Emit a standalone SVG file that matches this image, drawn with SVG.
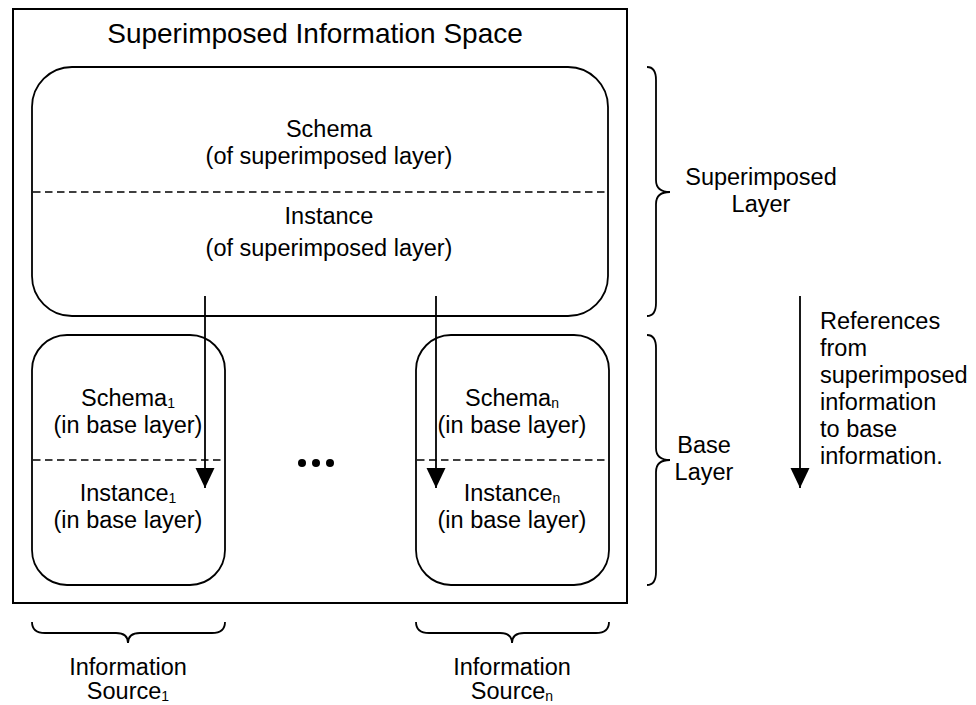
<svg xmlns="http://www.w3.org/2000/svg" width="976" height="705" viewBox="0 0 976 705">
  <style>
    text { font-family: "Liberation Sans", Arial, sans-serif; font-size: 23.5px; fill: #000; }
    .c { text-anchor: middle; }
    .title { font-size: 28px; }
    .sub { font-size: 14px; }
    .box { fill: none; stroke: #000; stroke-width: 1.8; }
    .frame { fill: #fff; stroke: #000; stroke-width: 2; }
    .div { stroke: #000; stroke-width: 1.6; stroke-dasharray: 7.5 4.5; }
    .brace { fill: none; stroke: #000; stroke-width: 1.8; }
    .ref { stroke: #000; stroke-width: 1.8; fill: none; }
  </style>
  <defs>
    <marker id="head" markerUnits="userSpaceOnUse" markerWidth="20" markerHeight="20" refX="20" refY="10" orient="auto">
      <path d="M0,0.5 L20,10 L0,19.5 Z" fill="#000"/>
    </marker>
  </defs>

  <rect width="976" height="705" fill="#fff"/>

  <!-- outer information space -->
  <g id="space">
    <rect class="frame" x="13" y="9" width="614" height="594"/>
    <text class="c title" x="315" y="43">Superimposed Information Space</text>
  </g>

  <!-- superimposed layer -->
  <g id="superimposed">
    <rect class="box" x="32" y="67" width="576" height="249" rx="40" ry="40"/>
    <line class="div" x1="33" y1="192" x2="607" y2="192"/>
    <text class="c" x="329" y="137">Schema</text>
    <text class="c" x="329" y="164">(of superimposed layer)</text>
    <text class="c" x="329" y="224">Instance</text>
    <text class="c" x="329" y="256">(of superimposed layer)</text>
  </g>

  <!-- base source 1 -->
  <g id="source1">
    <rect class="box" x="32" y="335" width="193" height="250" rx="35" ry="35"/>
    <line class="div" x1="33" y1="460" x2="224" y2="460"/>
    <text class="c" x="128" y="406">Schema<tspan class="sub" dy="2">1</tspan></text>
    <text class="c" x="128" y="433">(in base layer)</text>
    <text class="c" x="128" y="501">Instance<tspan class="sub" dy="2">1</tspan></text>
    <text class="c" x="128" y="528">(in base layer)</text>
  </g>

  <!-- base source n -->
  <g id="sourcen">
    <rect class="box" x="416" y="335" width="193" height="250" rx="35" ry="35"/>
    <line class="div" x1="417" y1="460" x2="608" y2="460"/>
    <text class="c" x="512" y="406">Schema<tspan class="sub" dy="2">n</tspan></text>
    <text class="c" x="512" y="433">(in base layer)</text>
    <text class="c" x="512" y="501">Instance<tspan class="sub" dy="2">n</tspan></text>
    <text class="c" x="512" y="528">(in base layer)</text>
  </g>

  <!-- ellipsis between sources -->
  <g id="ellipsis">
    <circle cx="302" cy="463" r="4"/>
    <circle cx="316" cy="463" r="4"/>
    <circle cx="330" cy="463" r="4"/>
  </g>

  <!-- references -->
  <g id="connectors">
    <line class="ref" x1="205" y1="296" x2="205" y2="488" marker-end="url(#head)"/>
    <line class="ref" x1="436" y1="296" x2="436" y2="488" marker-end="url(#head)"/>
  </g>

  <!-- layer braces -->
  <g id="superimposed-layer-label">
    <path class="brace" d="M647,67 Q656,67 656,80 L656,180 Q656,192 670,192 Q656,192 656,204 L656,303 Q656,316 647,316"/>
    <text class="c" x="761" y="185">Superimposed</text>
    <text class="c" x="761" y="212">Layer</text>
  </g>
  <g id="base-layer-label">
    <path class="brace" d="M647,335 Q656,335 656,348 L656,448 Q656,460 670,460 Q656,460 656,472 L656,572 Q656,585 647,585"/>
    <text class="c" x="704" y="453">Base</text>
    <text class="c" x="704" y="480">Layer</text>
  </g>

  <!-- legend -->
  <g id="legend">
    <line class="ref" x1="800" y1="296" x2="800" y2="488" marker-end="url(#head)"/>
    <text x="820" y="329">References</text>
    <text x="820" y="356">from</text>
    <text x="820" y="383">superimposed</text>
    <text x="820" y="410">information</text>
    <text x="820" y="437">to base</text>
    <text x="820" y="464">information.</text>
  </g>

  <!-- source braces -->
  <g id="source1-label">
    <path class="brace" d="M32,622 Q32,633 45,633 L116,633 Q128,633 128,643 Q128,633 140,633 L212,633 Q225,633 225,622"/>
    <text class="c" x="128" y="675">Information</text>
    <text class="c" x="128" y="699">Source<tspan class="sub" dy="2">1</tspan></text>
  </g>
  <g id="sourcen-label">
    <path class="brace" d="M416,622 Q416,633 429,633 L500,633 Q512,633 512,643 Q512,633 524,633 L596,633 Q609,633 609,622"/>
    <text class="c" x="512" y="675">Information</text>
    <text class="c" x="512" y="699">Source<tspan class="sub" dy="2">n</tspan></text>
  </g>
</svg>
